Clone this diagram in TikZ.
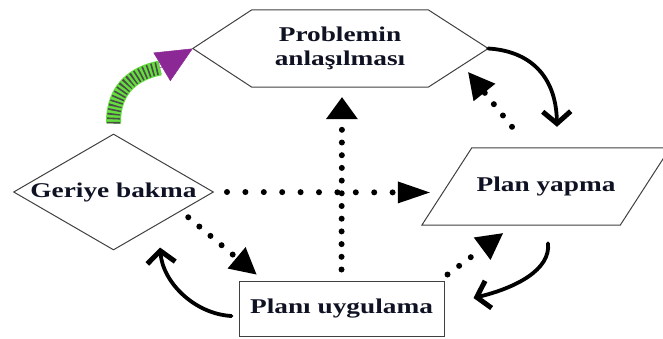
\documentclass[tikz,border=0pt]{standalone}
\usepackage{fontspec}
\setmainfont{Liberation Serif}
\usepackage{xcolor}
\usetikzlibrary{arrows.meta,shapes.geometric}

\definecolor{txtcol}{RGB}{15,18,35}
\definecolor{bandgreen}{RGB}{100,222,60}
\definecolor{headpurple}{RGB}{140,40,150}
\newcommand{\wide}[1]{\scalebox{1.3}[1]{#1}}

\tikzset{
	box/.style={draw=black!75, line width=1pt},
	lbl/.style={font=\fontsize{21}{23}\selectfont\bfseries, text=txtcol, align=center, inner sep=0pt},
	dotline/.style={line width=6pt, line cap=round, dash pattern=on 0pt off #1},
	dotline/.default=14.5pt,
	curve/.style={line width=3.8pt, line cap=round, -{Straight Barb[length=12pt,width=28pt,line width=5pt]}},
}

\begin{document}
\begin{tikzpicture}[x=1pt, y=1pt]
	\path [use as bounding box, clip] (0,0) rectangle (663,338);

	% the four steps
	\node [lbl, minimum width=176pt, minimum height=77pt] (prob) at (340,289.5) {\wide{Problemin}\\[1pt]\wide{anlaşılması}};
	\draw [box] (prob.north west) -- (prob.north east) -- ([xshift=60pt]prob.east) coordinate (probE)
		-- (prob.south east) -- (prob.south west) -- ([xshift=-59pt]prob.west) coordinate (probW) -- cycle;

	\node [box, diamond, minimum width=200pt, minimum height=116pt, inner sep=0pt] (geri) at (113.5,146) {};
	\node [lbl] (geritxt) at (geri) {\wide{Geriye bakma}};

	\node [lbl, minimum width=198pt, minimum height=77pt] (plan) at (546,151.5) {\wide{Plan yapma}};
	\draw [box] ([xshift=-25pt]plan.south west) -- ([xshift=-25pt]plan.south east)
		-- ([xshift=25pt]plan.north east) -- ([xshift=25pt]plan.north west) -- cycle;

	\node [lbl, box, minimum width=205pt, minimum height=55pt] (uygu) at (341.5,29.5) {\wide{Planı uygulama}};

	% solid curved arrows
	\draw [curve] (probE) .. controls (530,287) and (556,262) .. ([xshift=11pt,yshift=21pt]plan.north);
	\draw [curve] ([xshift=2pt,yshift=-18pt]plan.south) .. controls (551,68) and (515,50) .. ([xshift=29pt,yshift=10.5pt]uygu.east);
	\draw [curve] ([xshift=-7pt,yshift=-7.5pt]uygu.west) .. controls (195,24) and (163,55) .. ([xshift=46.5pt,yshift=3pt]geri.south);

	% green arrow
	\coordinate (headbase) at (160,270);
	\draw [bandgreen, line width=15pt, postaction={draw, black!70, line width=13pt, dash pattern=on 1.6pt off 2.6pt}]
		([yshift=10pt]geri.north) .. controls (113,250) and (135,265) .. (headbase);
	\draw [headpurple, line width=0.5pt, -{Triangle[length=36pt,width=33pt]}] (headbase) -- (probW);

	% dotted arrows
	\draw [dotline=12.7pt, -{Triangle[length=22pt,width=32pt,line width=0pt]}] ([yshift=11pt]uygu.north) -- ([xshift=2pt,yshift=-10pt]prob.south);
	\draw [dotline=18.4pt, -{Triangle[length=32pt,width=22pt,line width=0pt]}] ([xshift=13pt]geri.east) -- ([xshift=-17pt,yshift=-6pt]plan.west);
	\draw [dotline, -{Triangle[length=26pt,width=28pt,line width=0pt]}] ([xshift=-34pt,yshift=21pt]plan.north) -- ([xshift=40pt,yshift=15pt]prob.south east);
	\draw [dotline, -{Triangle[length=26pt,width=28pt,line width=0pt]}] ([xshift=24.5pt,yshift=4pt]geri.south east) -- ([xshift=18pt,yshift=6pt]uygu.north west);
	\draw [dotline, -{Triangle[length=26pt,width=28pt,line width=0pt]}] ([xshift=3pt,yshift=6pt]uygu.north east) -- ([xshift=-43pt,yshift=-8pt]plan.south);

\end{tikzpicture}
\end{document}
